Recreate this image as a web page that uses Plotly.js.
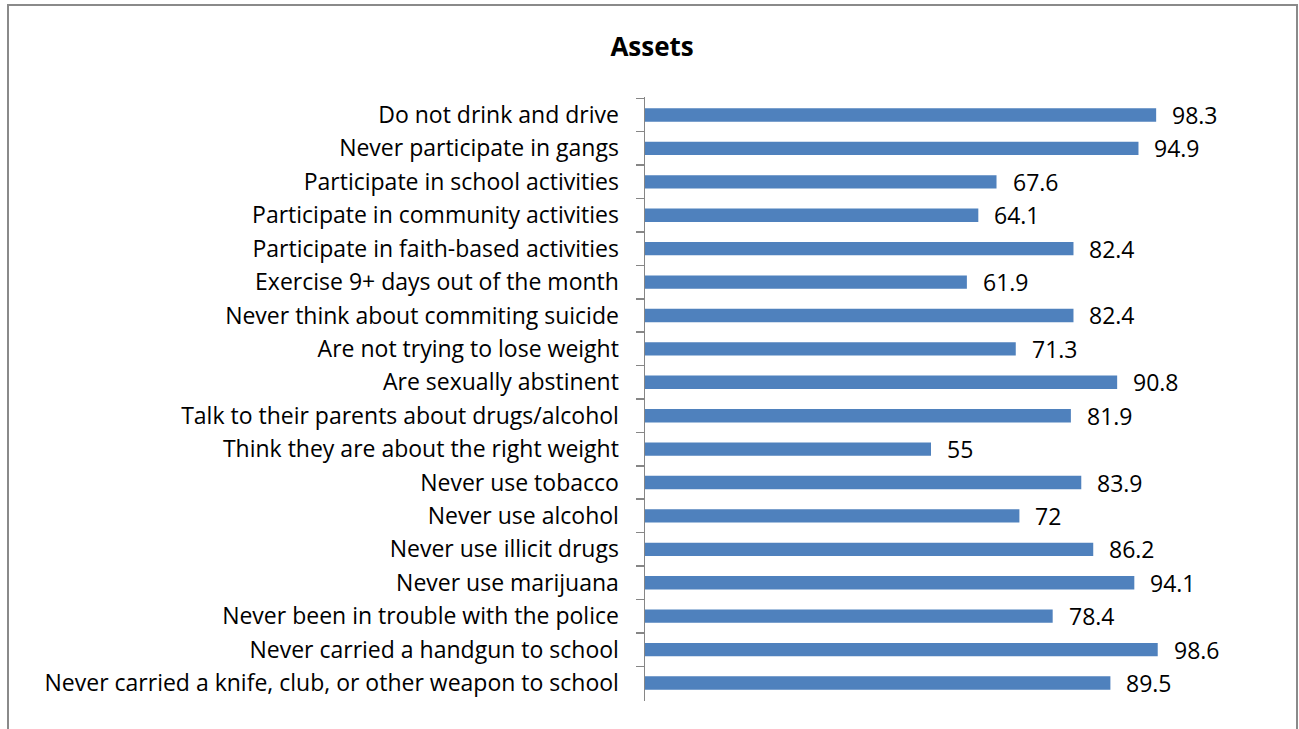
<!DOCTYPE html>
<html>
<head>
<meta charset="utf-8">
<script src="https://cdn.plot.ly/plotly-3.0.1.min.js"></script>
<style>
html,body{margin:0;padding:0;overflow:hidden;background:#fff;}
#chart{width:1299px;height:729px;position:absolute;left:0;top:0;}
#frame{position:absolute;left:7px;top:4px;width:1287px;height:800px;border:2px solid #8a8a8a;pointer-events:none;}
</style>
</head>
<body>
<div id="chart"></div>
<div id="frame"></div>
<script>
var categories = [
  "Do not drink and drive",
  "Never participate in gangs",
  "Participate in school activities",
  "Participate in community activities",
  "Participate in faith-based activities",
  "Exercise 9+ days out of the month",
  "Never think about commiting suicide",
  "Are not trying to lose weight",
  "Are sexually abstinent",
  "Talk to their parents about drugs/alcohol",
  "Think they are about the right weight",
  "Never use tobacco",
  "Never use alcohol",
  "Never use illicit drugs",
  "Never use marijuana",
  "Never been in trouble with the police",
  "Never carried a handgun to school",
  "Never carried a knife, club, or other weapon to school"
];
var values = [98.3, 94.9, 67.6, 64.1, 82.4, 61.9, 82.4, 71.3, 90.8, 81.9, 55, 83.9, 72, 86.2, 94.1, 78.4, 98.6, 89.5];

var FONT = "'Open Sans', sans-serif";

var trace = {
  type: "bar",
  orientation: "h",
  x: values,
  y: categories,
  marker: {color: "#4F81BD", line: {width: 0}},
  width: 0.4,
  hoverinfo: "x+y"
};

var annotations = values.map(function(v, i){
  return {
    x: v, y: categories[i], xref: "x", yref: "y",
    text: String(v), showarrow: false,
    xanchor: "left", yanchor: "middle", xshift: 14,
    font: {family: FONT, size: 23, color: "#000"}
  };
});

var layout = {
  width: 1299, height: 729,
  margin: {l: 645, r: 134, t: 97, b: 28},
  paper_bgcolor: "#fff", plot_bgcolor: "#fff",
  showlegend: false,
  title: {text: "<b>Assets</b>", x: 0.502, xanchor: "center", y: 0.935, yanchor: "middle",
          font: {family: FONT, size: 26, color: "#000"}},
  xaxis: {range: [0, 100], visible: false, fixedrange: true},
  yaxis: {
    type: "category", autorange: "reversed",
    showline: true, linecolor: "#868686", linewidth: 1.5,
    ticks: "outside", tickson: "boundaries", ticklen: 8, tickcolor: "#868686", tickwidth: 1.5,
    showgrid: false, zeroline: false,
    tickfont: {family: FONT, size: 23, color: "#000"},
    ticklabelstandoff: 20
  },
  annotations: annotations
};

Plotly.newPlot("chart", [trace], layout, {displayModeBar: false, staticPlot: true});
</script>
</body>
</html>
